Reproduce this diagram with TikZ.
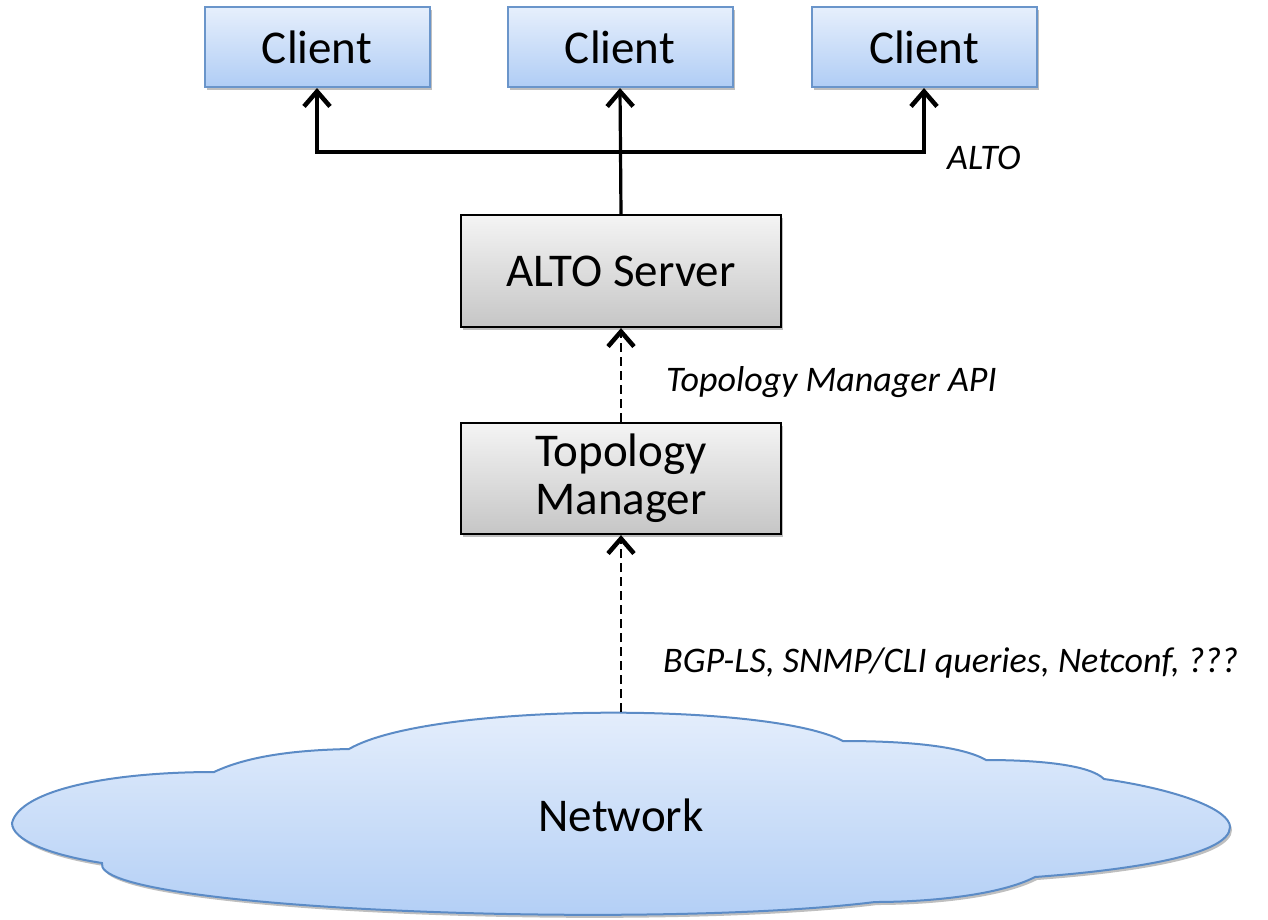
\documentclass[tikz,border=0pt]{standalone}
\usepackage{fontspec}
\setmainfont{Carlito}
\usetikzlibrary{arrows.meta,shadows}
\definecolor{clientTop}{HTML}{E6EFFC}
\definecolor{clientBot}{HTML}{B0CDF5}
\definecolor{clientLine}{HTML}{6A95CA}
\definecolor{greyTop}{HTML}{F4F4F4}
\definecolor{greyBot}{HTML}{C6C6C6}
\definecolor{cloudLine}{HTML}{5B8BC6}
\begin{document}
\begin{tikzpicture}[x=1pt,y=-1pt,
  shadowed/.style={drop shadow={shadow xshift=2pt,shadow yshift=-3pt,opacity=0.25,fill=black}},
  clientbox/.style={draw=clientLine, line width=2pt, top color=clientTop, bottom color=clientBot,
    minimum width=225pt, minimum height=80pt, inner sep=0pt, font=\fontsize{47}{54}\selectfont, shadowed},
  greybox/.style={draw=black, line width=2.2pt, top color=greyTop, bottom color=greyBot,
    minimum width=320pt, minimum height=111pt, inner sep=0pt, align=center,
    font=\fontsize{47}{48}\selectfont, shadowed},
  tip/.style={-{Straight Barb[length=15pt,width=26pt,line width=4.5pt]}},
  conn/.style={line width=3.2pt, tip},
  dconn/.style={line width=2.5pt, dash pattern=on 9pt off 5pt, tip},
  lbl/.style={anchor=west, inner sep=0pt, font=\fontsize{36}{40}\selectfont\itshape}
]
\useasboundingbox (0,0) rectangle (1268,919);
% cloud
\path[draw=cloudLine, line width=2pt, top color=clientTop, bottom color=clientBot, shadowed]
  (12,823) .. controls (20,790) and (110,772) .. (214,772)
  .. controls (250,755) and (300,750) .. (349,749)
  .. controls (430,702) and (770,702) .. (843,741)
  .. controls (900,741) and (960,745) .. (986,760)
  .. controls (1040,760) and (1090,765) .. (1104,779)
  .. controls (1180,790) and (1230,810) .. (1230,827)
  .. controls (1230,855) and (1130,870) .. (1035,877)
  .. controls (1000,895) and (930,902) .. (875,902)
  .. controls (650,930) and (90,910) .. (102,863)
  .. controls (50,855) and (12,840) .. (12,823) -- cycle;
\node[font=\fontsize{47}{54}\selectfont] (net) at (621,815) {Network};
\coordinate (ctop) at (621,712);
% clients
\node[clientbox] (cL) at (317,47) {Client};
\node[clientbox] (cM) at (620,47) {Client};
\node[clientbox] (cR) at (924,47) {Client};
% servers
\node[greybox, minimum height=112pt] (alto) at (621,271) {ALTO Server};
\node[greybox] (tm) at (621,478.5) {Topology\\Manager};
% connectors
\coordinate (j) at (alto.north |- 0,152);
\draw[conn] (alto.north) -- (cM.south);
\draw[conn] (j) -| (cL.south);
\draw[conn] (j) -| (cR.south);
\draw[dconn] (tm.north) -- (alto.south);
\draw[dconn] (ctop) -- (tm.south);
% labels
\node[lbl] (l1) at (947,158) {ALTO};
\node[lbl] (l2) at (666,382) {Topology Manager API};
\node[lbl] (l3) at (663,663) {BGP-LS, SNMP/CLI queries, Netconf, ???};
\end{tikzpicture}
\end{document}
